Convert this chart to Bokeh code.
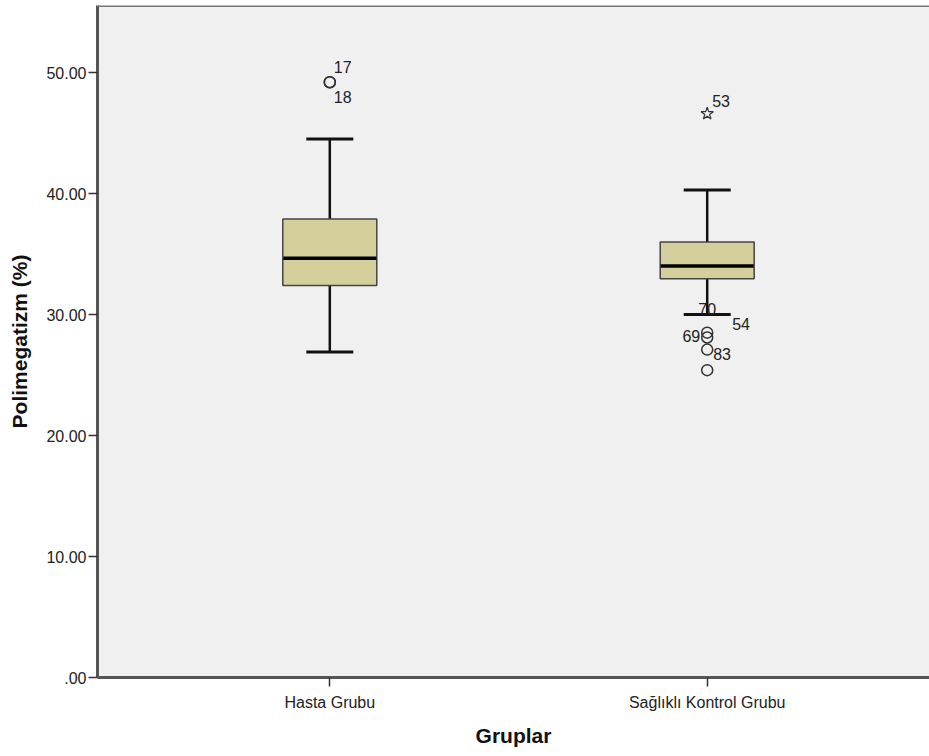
from bokeh.plotting import figure
from bokeh.models import FixedTicker, Range1d, Span, ColumnDataSource
from bokeh.core.properties import value
from bokeh.embed import file_html
from bokeh.resources import INLINE

# ---- data ----
groups = ["Hasta Grubu", "Sağlıklı Kontrol Grubu"]
x_pos = [1, 2]
q1 = [32.4, 32.95]
median = [34.65, 34.0]
q3 = [37.9, 36.0]
whisk_low = [26.9, 30.0]
whisk_high = [44.5, 40.3]

out_group = [1, 1, 2, 2, 2, 2]
out_val = [49.2, 49.2, 28.5, 28.1, 27.1, 25.4]

ext_group = [2]
ext_val = [46.6]

lab_text = ["17", "18", "53", "70", "54", "69", "83"]
lab_group = [1, 1, 2, 2, 2, 2, 2]
lab_val = [49.2, 49.2, 46.6, 28.5, 28.5, 28.1, 27.1]

y_ticks = [0, 10, 20, 30, 40, 50]
y_tick_labels = [".00", "10.00", "20.00", "30.00", "40.00", "50.00"]

# ---- styles ----
lab_dx = [4, 4, 5, 0, 25, -7, 6]
lab_dy = [-15, 15, -13, -24, -9, -2, 4]
lab_align = ["left", "left", "left", "center", "left", "right", "left"]

FONT = "Liberation Sans"
Y_TOP = 55.54

p = figure(width=929, height=756, output_backend="svg", toolbar_location=None,
           x_range=Range1d(0.3845, 2.589), y_range=Range1d(0, Y_TOP),
           min_border_left=97, min_border_top=5, min_border_bottom=79, min_border_right=0)

p.background_fill_color = "#F0F0F0"
p.border_fill_color = "white"
p.outline_line_color = None
p.grid.visible = False

# axes
p.xaxis.ticker = FixedTicker(ticks=x_pos)
p.xaxis.major_label_overrides = {x: g for x, g in zip(x_pos, groups)}
p.yaxis.ticker = FixedTicker(ticks=y_ticks)
p.yaxis.major_label_overrides = {t: l for t, l in zip(y_ticks, y_tick_labels)}

for ax in (p.xaxis, p.yaxis):
    ax.axis_line_color = "#555555"
    ax.axis_line_width = 3
    ax.major_tick_line_color = "#333333"
    ax.major_tick_line_width = 1.5
    ax.major_tick_out = 9
    ax.major_tick_in = 0
    ax.minor_tick_line_color = None
    ax.major_label_text_font = FONT
    ax.major_label_text_font_size = "16px"
    ax.major_label_text_color = "#222222"
    ax.axis_label_text_font = FONT
    ax.axis_label_text_font_style = "bold"
    ax.axis_label_text_font_size = "21px"
    ax.axis_label_text_color = "#111111"

p.xaxis.axis_label = "Gruplar"
p.yaxis.axis_label = "Polimegatizm (%)"
p.xaxis.major_label_standoff = 7
p.xaxis.axis_label_standoff = 10
p.yaxis.major_label_standoff = 2
p.yaxis.axis_label_standoff = 12

p.add_layout(Span(location=Y_TOP, dimension="width", line_color="#777777", line_width=3))

# whiskers
p.segment(x0=x_pos, y0=q3, x1=x_pos, y1=whisk_high, line_color="#111111", line_width=2.5)
p.segment(x0=x_pos, y0=q1, x1=x_pos, y1=whisk_low, line_color="#111111", line_width=2.5)
p.scatter(x=x_pos, y=whisk_high, marker="dash", size=47, line_color="#111111", line_width=3)
p.scatter(x=x_pos, y=whisk_low, marker="dash", size=47, line_color="#111111", line_width=3)

# boxes
p.vbar(x=x_pos, width=0.249, bottom=q1, top=q3, fill_color="#D4CF9B",
       line_color="#444444", line_width=1.5)
p.scatter(x=x_pos, y=median, marker="dash", size=93, line_color="#000000", line_width=3.5)

# outliers
p.scatter(x=out_group, y=out_val, marker="circle", size=11, fill_color=None,
          line_color="#333333", line_width=1.5)
p.scatter(x=ext_group, y=ext_val, marker="star", size=13, fill_color=None,
          line_color="#333333", line_width=1.2)

src = ColumnDataSource(dict(x=lab_group, y=lab_val, t=lab_text, dx=lab_dx, dy=lab_dy, al=lab_align))
p.text(x="x", y="y", text="t", x_offset="dx", y_offset="dy", text_align="al",
       text_baseline="middle", source=src, text_font=value(FONT),
       text_font_size="16px", text_color="#222222")

open("out.html", "w").write(file_html(p, INLINE))
